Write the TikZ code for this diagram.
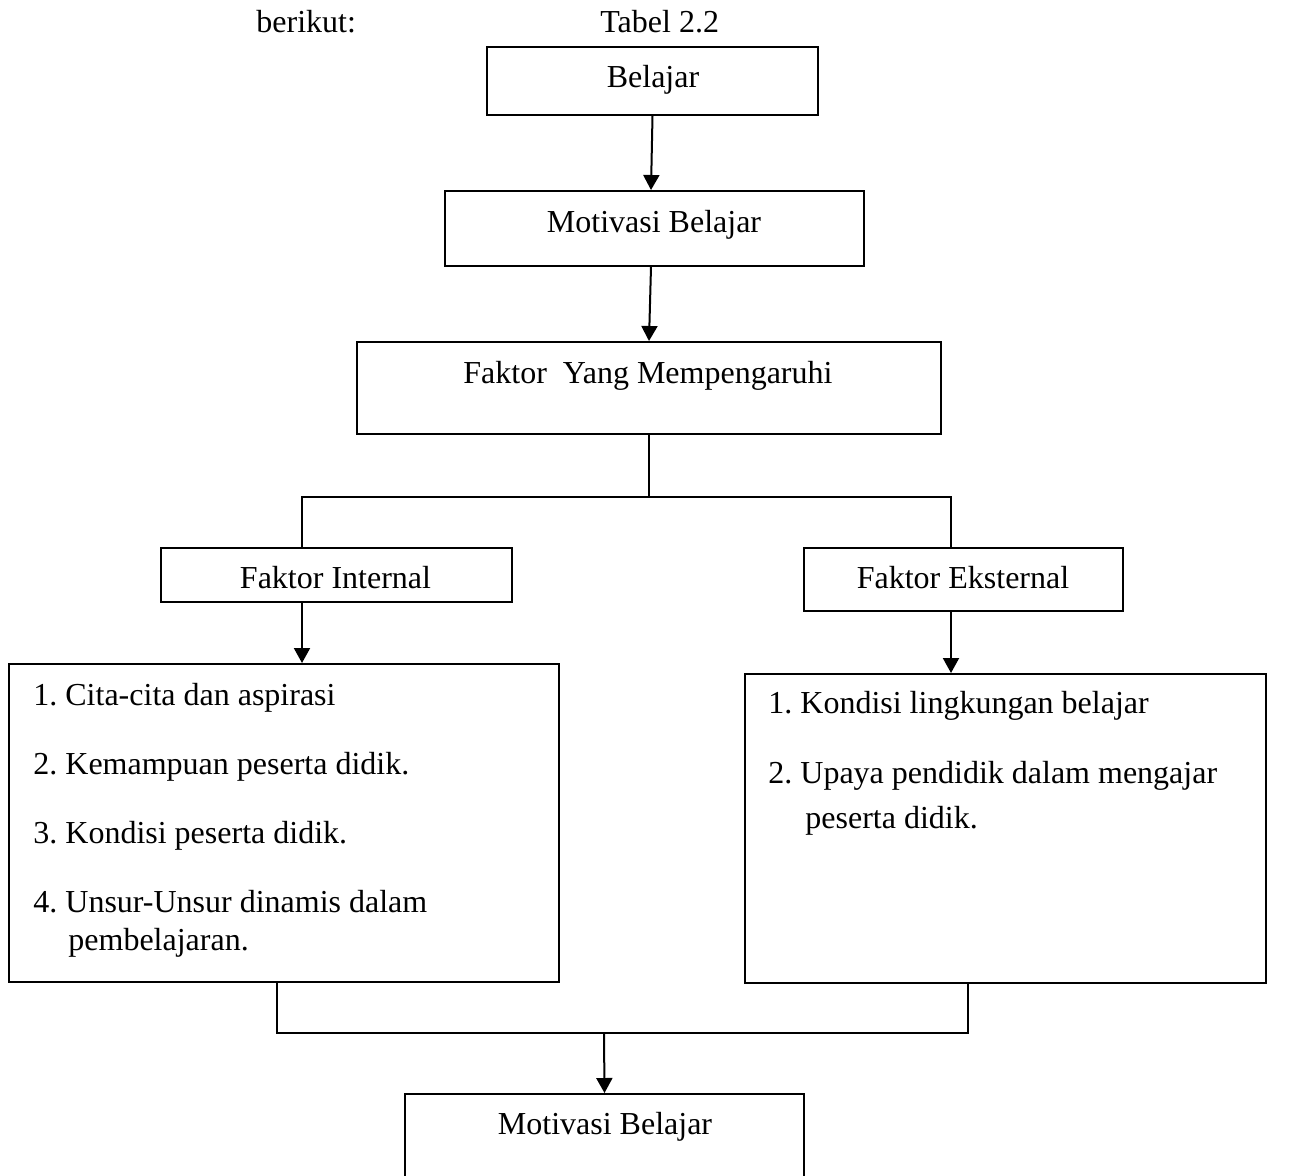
\documentclass[tikz,border=0pt]{standalone}
\usepackage{fontspec}
\setmainfont{Liberation Serif}
\usetikzlibrary{arrows.meta}
\frenchspacing
\begin{document}
\begin{tikzpicture}[x=0.5pt,y=-0.5pt,
  box/.style={draw=black, line width=1pt, rectangle, inner sep=0pt},
  txt/.style={inner sep=0pt, font=\fontsize{16}{19}\selectfont},
  conn/.style={line width=1pt, draw=black},
  arr/.style={conn, -{Triangle[width=8pt,length=7.5pt]}}]
\useasboundingbox (0,0) rectangle (1298,1175);
\clip (0,0) rectangle (1298,1175);
\fill[white] (0,0) rectangle (1298,1175);

% header texts
\node[txt, anchor=base west] (berikut) at (256,32) {berikut:};
\node[txt, anchor=base west] (tabel) at (600,32) {Tabel 2.2};

% boxes
\node[box, minimum width=165.5pt, minimum height=34pt] (b) at (652.5,81) {};
\node[txt, anchor=base] (bt) at (653,87) {Belajar};

\node[box, minimum width=209.5pt, minimum height=37.5pt] (m) at (654.5,228.5) {};
\node[txt, anchor=base] (mt) at (654,232) {Motivasi Belajar};

\node[box, minimum width=292pt, minimum height=46pt] (f) at (649,388) {};
\node[txt, anchor=base west] (ft) at (463,383) {Faktor\ \ Yang Mempengaruhi};

\node[box, minimum width=175.5pt, minimum height=27pt] (fi) at (336.5,575) {};
\node[txt, anchor=base] (fit) at (335.5,588) {Faktor Internal};

\node[box, minimum width=159.5pt, minimum height=31.5pt] (fe) at (963.5,579.5) {};
\node[txt, anchor=base] (fet) at (963,588) {Faktor Eksternal};

\node[box, minimum width=275pt, minimum height=159pt] (li) at (284,823) {};
\node[txt, anchor=base west] (l1) at (33,705) {1. Cita-cita dan aspirasi};
\node[txt, anchor=base west] (l2) at (33,774) {2. Kemampuan peserta didik.};
\node[txt, anchor=base west] (l3) at (33,843) {3. Kondisi peserta didik.};
\node[txt, anchor=base west] (l4) at (33,912) {4. Unsur-Unsur dinamis dalam};
\node[txt, anchor=base west] (l4b) at (68,950) {pembelajaran.};

\node[box, minimum width=260.5pt, minimum height=154.5pt] (ri) at (1005.5,828.5) {};
\node[txt, anchor=base west] (r1) at (768,713) {1. Kondisi lingkungan belajar};
\node[txt, anchor=base west] (r2) at (768,783) {2. Upaya pendidik dalam mengajar};
\node[txt, anchor=base west] (r2b) at (805,828) {peserta didik.};

\node[box, minimum width=199.5pt, minimum height=53pt] (bot) at (604.5,1147) {};
\node[txt, anchor=base] (bott) at (605,1134) {Motivasi Belajar};

% connectors
\draw[arr] (b.south) -- ([xshift=-1.75pt]m.north);
\draw[arr] ([xshift=-1.75pt]m.south) -- (f.north);

\coordinate (j) at (649,497);
\draw[conn] (f.south) -- (j);
\draw[conn] ([xshift=-17.25pt]fi.north) |- (j) -| ([xshift=-6.25pt]fe.north);

\draw[arr] ([xshift=-17.25pt]fi.south) -- ([xshift=9pt]li.north);
\draw[arr] ([xshift=-6.25pt]fe.south) -- ([xshift=-27.25pt]ri.north);

\coordinate (j2) at (604,1033);
\draw[conn] ([xshift=-3.5pt]li.south) |- (j2) -| ([xshift=-18.75pt]ri.south);
\draw[arr] (j2) -- (bot.north);
\end{tikzpicture}
\end{document}
